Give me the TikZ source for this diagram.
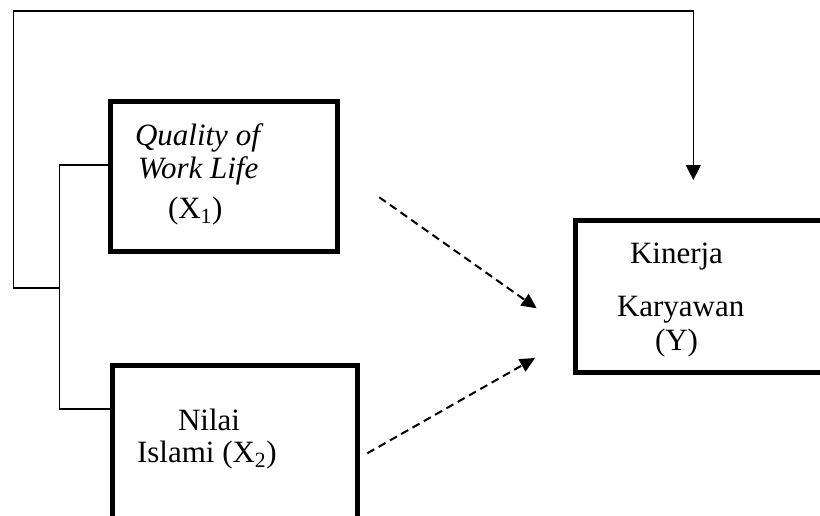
\documentclass[tikz,border=0pt]{standalone}
\usepackage{fontspec}
\setmainfont{Liberation Serif}
\usetikzlibrary{arrows.meta}
\tikzset{
  box/.style={draw, line width=5pt, rectangle, inner sep=0pt, outer sep=0pt},
  thinline/.style={line width=1.5pt},
  dashedarrow/.style={line width=2pt, dash pattern=on 8pt off 5pt, -{Triangle[length=15pt,width=14pt]}},
  solidarrow/.style={line width=1.5pt, -{Triangle[length=15pt,width=15pt]}},
  txt/.style={inner sep=0pt, outer sep=0pt, anchor=base west, font=\fontsize{31}{37}\selectfont}
}
\begin{document}
\begin{tikzpicture}[x=1pt,y=-1pt]
\useasboundingbox (0,0) rectangle (820,515);
\clip (0,0) rectangle (820,515);
% boxes
\node[box, minimum width=227pt, minimum height=150.5pt, anchor=north west] (x1) at (110.5,101) {};
\node[box, minimum width=245pt, minimum height=180pt, anchor=north west] (x2) at (112.5,365.5) {};
\node[box, minimum width=270pt, minimum height=152pt, anchor=north west] (y) at (575,220.5) {};
% texts
\node[txt] (t1) at (135,145) {\itshape Quality of};
\node[txt] (t2) at (138,178) {\itshape Work Life};
\node[txt] (t3) at (168,218) {(X\textsubscript{1})};
\node[txt] (t4) at (178,430) {Nilai};
\node[txt] (t5) at (137,462) {Islami (X\textsubscript{2})};
\node[txt] (t6) at (630,263) {Kinerja};
\node[txt] (t7) at (617,316) {Karyawan};
\node[txt] (t8) at (655,350) {(Y)};
% bracket
\coordinate (b1) at (59.7,165);
\coordinate (b2) at (59.7,409);
\coordinate (j) at (59.7,288);
\draw[thinline] (x1.west |- b1) -- (b1) -- (b2) -- (x2.west |- b2);
% feedback line
\coordinate (fl) at (13.3,288);
\coordinate (ftop) at (693.3,11);
\coordinate (fend) at (693.3,180);
\draw[solidarrow] (j) -- (fl) |- (ftop) -- (fend);
% dashed arrows
\coordinate (d1s) at (379.3,197.3);
\coordinate (d1e) at (536.7,308.3);
\coordinate (d2s) at (367.3,453.3);
\coordinate (d2e) at (535,358);
\draw[dashedarrow] (d1s) -- (d1e);
\draw[dashedarrow] (d2s) -- (d2e);
\end{tikzpicture}
\end{document}
